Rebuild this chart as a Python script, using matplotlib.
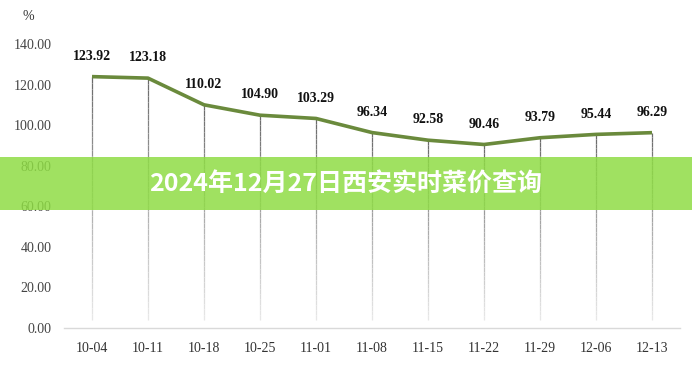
import matplotlib
matplotlib.use('Agg')
import matplotlib.pyplot as plt
import matplotlib.patches as mpatches
from matplotlib.collections import LineCollection
import numpy as np

# 데이터
dates = ["10-04", "10-11", "10-18", "10-25", "11-01", "11-08",
         "11-15", "11-22", "11-29", "12-06", "12-13"]
values = [123.92, 123.18, 110.02, 104.90, 103.29, 96.34,
          92.58, 90.46, 93.79, 95.44, 96.29]
y_ticks = [0, 20, 40, 60, 80, 100, 120, 140]
title = "2024年12月27日西安实时菜价查询"

serif = ['Liberation Serif', 'DejaVu Serif']

fig = plt.figure(figsize=(6.92, 3.67), dpi=100)
ax = fig.add_axes([64 / 692, 1 - 328 / 367, 616 / 692, 284 / 367])

x = np.arange(len(dates))

# 드롭 라인 (위쪽 진함 -> 아래쪽 옅음)
segs, cols = [], []
n = 40
for xi, v in zip(x, values):
    ys = np.linspace(v, 4, n + 1)
    for k in range(n):
        segs.append([(xi, ys[k]), (xi, ys[k + 1])])
        g = 0.42 + 0.5 * (k / n)
        cols.append((g, g, g, 1.0))
ax.add_collection(LineCollection(segs, colors=cols, linewidths=0.9, zorder=1))

ax.plot(x, values, color='#6a8a3c', lw=2.6, solid_capstyle='butt', zorder=3)

for xi, v in zip(x, values):
    ax.annotate(f"{v:.2f}", (xi, v), xytext=(0, 10), textcoords='offset points',
                ha='center', va='bottom', fontsize=10, fontweight='bold',
                family=serif, color='#111111')

ax.set_xlim(-0.5, len(dates) - 0.5)
ax.set_ylim(0, 140)
ax.set_xticks(x)
ax.set_xticklabels(dates, family=serif, fontsize=10, color='#333333')
ax.set_yticks(y_ticks)
ax.set_yticklabels([f"{t:.2f}" for t in y_ticks], family=serif, fontsize=10,
                   color='#444444')
ax.tick_params(axis='both', length=0)
ax.tick_params(axis='y', pad=9)
ax.tick_params(axis='x', pad=10)

for s in ['top', 'right', 'left']:
    ax.spines[s].set_visible(False)
ax.spines['bottom'].set_color('#d9d9d9')
ax.spines['bottom'].set_linewidth(1.0)

fig.text(28 / 692, 1 - 17 / 367, "%", family=serif, fontsize=10,
         ha='center', va='center', color='#333333')

# 배너
banner = mpatches.Rectangle((0, 1 - 210 / 367), 1, 53 / 367,
                            transform=fig.transFigure, facecolor='#8fdc45',
                            alpha=0.85, edgecolor='none', zorder=5)
fig.patches.append(banner)
fig.text(346 / 692, 1 - 185 / 367, title, ha='center', va='center',
         fontsize=18, fontweight='bold', color='white',
         family=['Noto Sans CJK SC', 'DejaVu Sans'], zorder=6)

fig.savefig("out.png", dpi=100)
